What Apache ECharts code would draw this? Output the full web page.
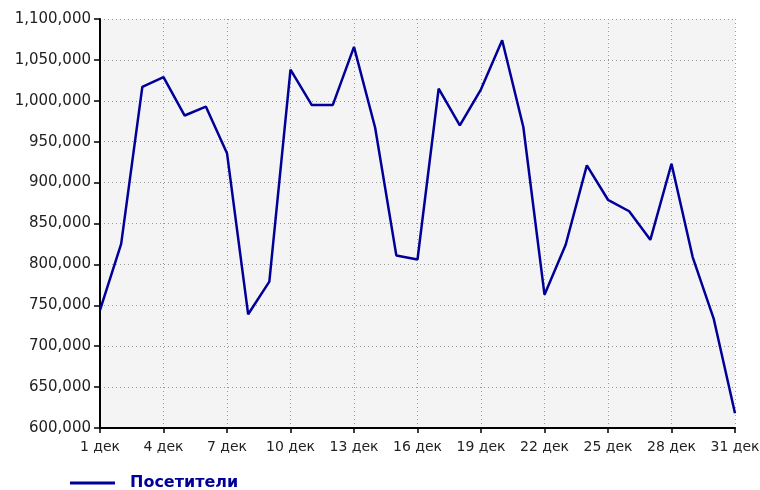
<!DOCTYPE html>
<html>
<head>
<meta charset="utf-8">
<script src="https://cdn.jsdelivr.net/npm/echarts@6/dist/echarts.min.js"></script>
<style>
  html, body { margin: 0; padding: 0; background: #ffffff; }
  #chart { width: 760px; height: 490px; }
</style>
</head>
<body>
<div id="chart"></div>
<script>
// Daily visitors for December
const days = [];
for (let d = 1; d <= 31; d++) days.push(d + ' дек');

const seriesName = 'Посетители';
const visitors = [
  744000, 825000, 1017000, 1029000, 982000, 993000, 936000, 739000, 779000, 1038000,
  995000, 995000, 1066000, 967000, 811000, 806000, 1015000, 970000, 1014000, 1074000,
  968000, 763000, 824000, 921000, 879000, 865000, 830000, 923000, 809000, 733000,
  618000
];

const yMin = 600000;
const yMax = 1100000;
const yStep = 50000;

const fmt = v => String(v).replace(/\B(?=(\d{3})+(?!\d))/g, ',');

const font = 'DejaVu Sans, Verdana, sans-serif';
const chart = echarts.init(document.getElementById('chart'), null, { renderer: 'canvas' });

chart.setOption({
  animation: false,
  backgroundColor: '#ffffff',
  grid: {
    left: 100, right: 25, top: 19, bottom: 62,
    containLabel: false,
    outerBoundsMode: 'none',
    show: true, backgroundColor: '#f4f4f4', borderWidth: 0
  },
  legend: {
    left: 65, top: 470,
    icon: 'rect', itemWidth: 45, itemHeight: 3,
    data: [seriesName],
    textStyle: {
      fontFamily: font, fontSize: 16, fontWeight: 'bold', color: '#000099',
      padding: [0, 0, 0, 10]
    }
  },
  xAxis: {
    type: 'category',
    data: days,
    boundaryGap: false,
    axisLine: { lineStyle: { color: '#000', width: 2 } },
    axisTick: { interval: 2, length: 5, lineStyle: { color: '#000', width: 1.5 } },
    axisLabel: {
      interval: 2, margin: 12,
      fontFamily: font, fontSize: 14, color: '#222'
    },
    splitLine: {
      show: true, interval: 2,
      lineStyle: { color: '#999', width: 1, type: [1, 3] }
    }
  },
  yAxis: {
    type: 'value',
    min: yMin, max: yMax, interval: yStep,
    axisLine: { show: true, lineStyle: { color: '#000', width: 2 } },
    axisTick: { show: true, length: 6, lineStyle: { color: '#000', width: 1.5 } },
    axisLabel: {
      margin: 9,
      fontFamily: font, fontSize: 15, color: '#222',
      formatter: fmt
    },
    splitLine: {
      show: true,
      lineStyle: { color: '#999', width: 1, type: [1, 3] }
    }
  },
  series: [{
    name: seriesName,
    type: 'line',
    data: visitors,
    symbol: 'none',
    lineStyle: { color: '#000099', width: 2.5 },
    itemStyle: { color: '#000099' }
  }]
});
</script>
</body>
</html>
